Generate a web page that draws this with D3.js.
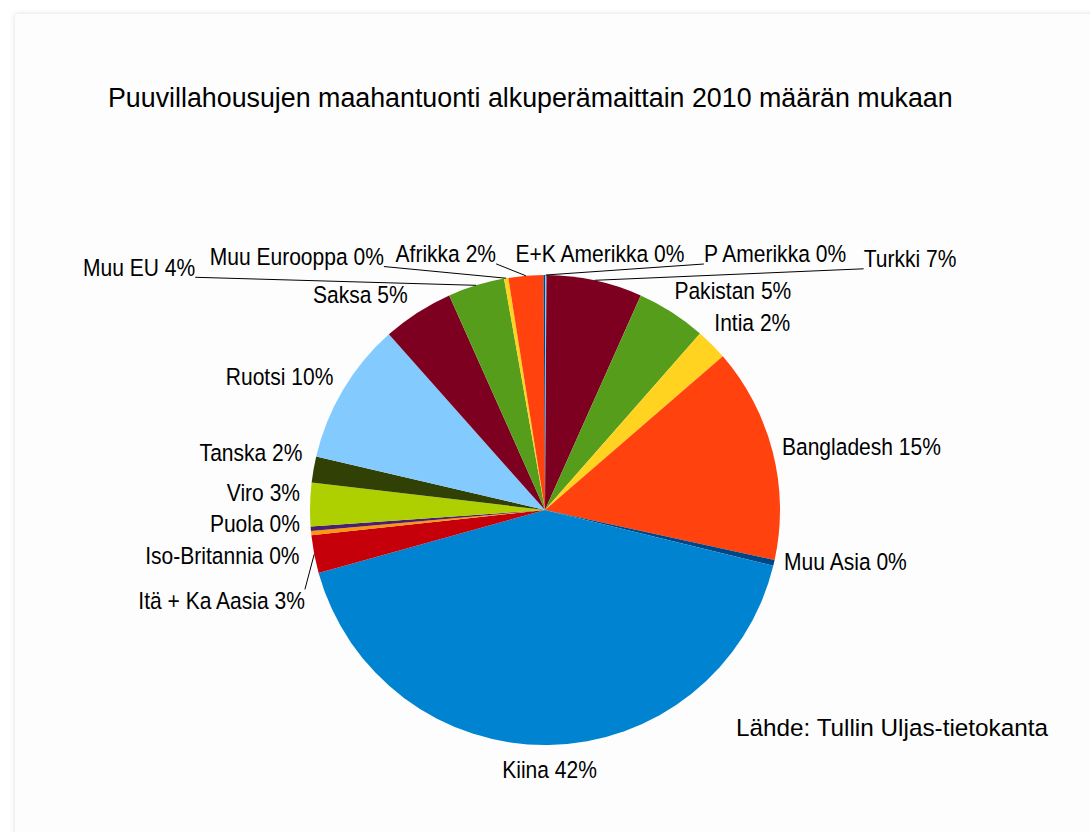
<!DOCTYPE html>
<html>
<head>
<meta charset="utf-8">
<script src="https://cdn.jsdelivr.net/npm/d3@7"></script>
<style>
  body { margin: 0; background: #ffffff; font-family: "Liberation Sans", Arial, sans-serif; }
  #card { position: absolute; left: 15px; top: 14px; width: 1100px; height: 840px;
          background: #fdfdfd; box-shadow: 0 0 5px rgba(0,0,0,0.14); }
  #chart { position: absolute; left: 0; top: 0; }
</style>
</head>
<body>
<div id="card"></div>
<svg id="chart" width="1090" height="832"></svg>
<script>
// slices, clockwise from 12 o'clock
const countries = ["P Amerikka", "Turkki", "Pakistan", "Intia", "Bangladesh", "Muu Asia", "Kiina",
  "Itä + Ka Aasia", "Iso-Britannia", "Puola", "Viro", "Tanska", "Ruotsi", "Saksa", "Muu EU",
  "Muu Eurooppa", "Afrikka", "E+K Amerikka"];
const shares = [0.1, 6.6, 4.8, 2.2, 14.8, 0.4, 42.0, 2.6, 0.3, 0.3, 3.0, 1.8, 9.8, 4.9, 3.9, 0.3, 2.4, 0.1];
const colors = ["#83caff", "#7e0021", "#579d1c", "#ffd320", "#ff420e", "#004586", "#0084d1",
  "#c5000b", "#ff950e", "#4b1f6f", "#aecf00", "#314004", "#83caff", "#7e0021", "#579d1c",
  "#ffd320", "#ff420e", "#004586"];
const title = "Puuvillahousujen maahantuonti alkuperämaittain 2010 määrän mukaan";
const sourceNote = "Lähde: Tullin Uljas-tietokanta";

document.addEventListener('DOMContentLoaded', () => {
  const svg = d3.select("#chart");
  const cx = 545, cy = 510, radius = 235;
  const fs = 23.5, squeeze = 0.895;   // slice labels in the original are a bit condensed

  // manual nudges of the labels LibreOffice pushed aside
  const labelShift = {
    "P Amerikka": [229, 1], "Turkki": [303, 0], "Pakistan": [23, -3], "Intia": [5, -6],
    "Muu Asia": [0, -6], "Kiina": [0, 3], "Itä + Ka Aasia": [1, 42], "Iso-Britannia": [0, 20],
    "Puola": [1, -7], "Viro": [2, -11], "Tanska": [0, -13], "Ruotsi": [-7, -2], "Saksa": [-25, 0],
    "Muu EU": [-317, 3], "Muu Eurooppa": [-193, 0], "Afrikka": [-75, 0], "E+K Amerikka": [56, 1]
  };
  const withLeader = new Set(["P Amerikka", "Turkki", "Itä + Ka Aasia", "Muu EU", "Muu Eurooppa", "Afrikka"]);

  const data = countries.map((c, i) => ({ country: c, share: shares[i], color: colors[i] }));
  const total = d3.sum(shares);

  const pie = d3.pie().value(d => d.share).sort(null);
  const arc = d3.arc().innerRadius(0).outerRadius(radius);
  const arcs = pie(data);

  const g = svg.append("g").attr("transform", `translate(${cx},${cy})`);
  g.selectAll("path")
    .data(arcs)
    .enter()
    .append("path")
    .attr("d", arc)
    .attr("fill", d => d.data.color);

  const textAt = (sel, x, y, sx = squeeze) => sel.attr("transform", `translate(${x},${y}) scale(${sx},1)`);

  // title + source
  svg.append("text")
    .text(title)
    .attr("font-size", 26.8)
    .attr("fill", "#000")
    .call(textAt, 108, 107, 1);

  svg.append("text")
    .text(sourceNote)
    .attr("font-size", 24.3)
    .attr("fill", "#000")
    .call(textAt, 736, 736, 1);

  const leaders = svg.append("g");
  const labels = svg.append("g");

  arcs.forEach(d => {
    const name = d.data.country;
    const pct = Math.round(d.data.share / total * 100);
    const a = (d.startAngle + d.endAngle) / 2;
    const sa = Math.sin(a), ca = Math.cos(a);

    const t = labels.append("text")
      .text(`${name} ${pct}%`)
      .attr("font-size", fs)
      .attr("fill", "#000");
    const w = t.node().getComputedTextLength() * squeeze;
    const h = 20;

    const px = cx + (radius + 12) * sa;
    const py = cy - (radius + 12) * ca;
    const shift = labelShift[name] || [0, 0];
    const bx = px + sa * w / 2 + shift[0];
    const by = py - ca * h / 2 + shift[1];

    t.call(textAt, bx - w / 2, by + fs * 0.36);

    if (withLeader.has(name)) {
      const ex = cx + radius * sa, ey = cy - radius * ca;
      const lx = ex < bx ? bx - w / 2 : bx + w / 2;
      const ly = ey < by ? by - h / 2 - 1 : by + h / 2;
      leaders.append("line")
        .attr("x1", lx).attr("y1", ly)
        .attr("x2", ex).attr("y2", ey)
        .attr("stroke", "#000")
        .attr("stroke-width", 1);
    }
  });
});
</script>
</body>
</html>
